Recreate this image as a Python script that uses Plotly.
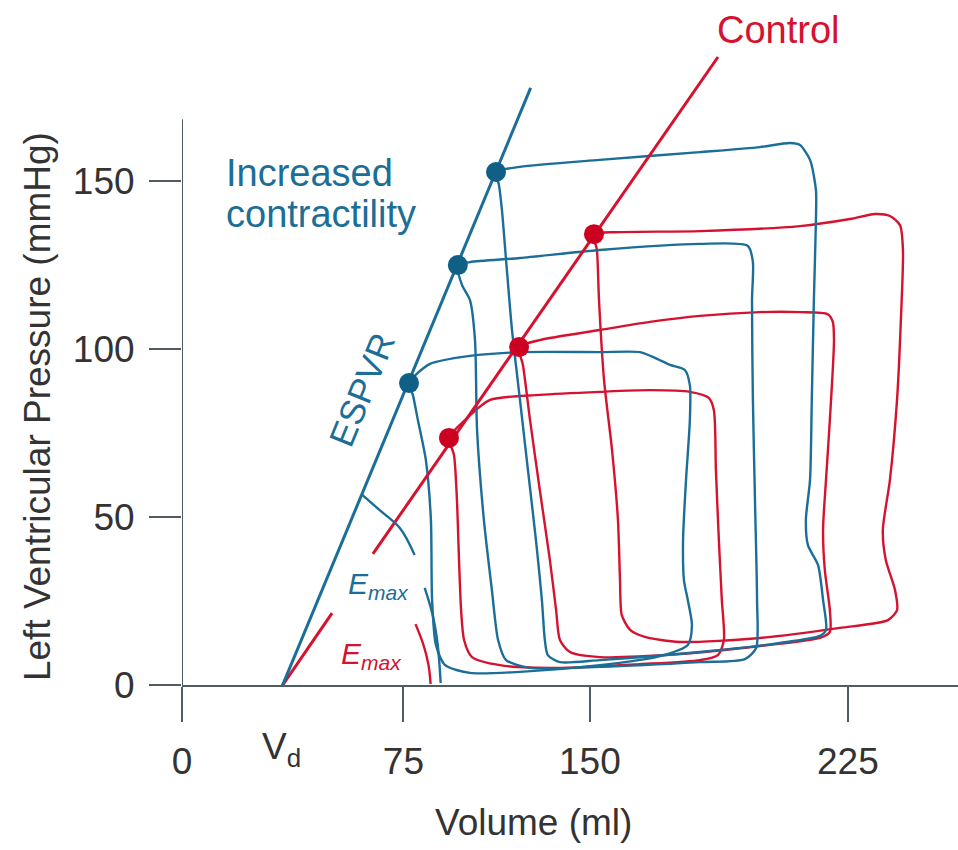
import plotly.graph_objects as go

BLUE = "#1b6e97"
BLUE_DOT = "#0f5f86"
RED = "#d5122f"
RED_DOT = "#cc0020"
AXIS = "#4f5c62"
TXT = "#333333"
FONT = "Liberation Sans"

x_tickvals = [0, 74.8, 137.8, 225.0]
x_ticktext = ["0", "75", "150", "225"]
y_tickvals = [0, 50, 100, 150]
y_ticktext = ["0", "50", "100", "150"]

# ESPVR lines (volume ml, pressure mmHg)
blue_espvr_v = [33.3, 117.8]
blue_espvr_p = [-1.5, 177.6]
red_espvr_low_v = [33.1, 50.7]
red_espvr_low_p = [-1.2, 21.4]
red_espvr_up_v = [64.5, 181.1]
red_espvr_up_p = [39.0, 186.8]

# End-systolic points
blue_es_v = [76.7, 93.2, 106.1]
blue_es_p = [89.8, 124.9, 152.6]
red_es_v = [90.2, 113.9, 139.2]
red_es_p = [73.5, 100.5, 134.1]

# Emax angle arcs
blue_arc1_v = [61.0, 66.8, 73.6, 78.6]
blue_arc1_p = [56.5, 52.0, 46.7, 38.7]
blue_arc2_v = [82.0, 84.7, 86.4, 87.4]
blue_arc2_p = [28.9, 20.8, 11.9, 0.6]
red_arc_v = [78.9, 81.6, 83.3, 84.0]
red_arc_p = [18.1, 11.9, 5.9, 0.3]

# Pressure-volume loops (increased contractility = blue, control = red)
b1_v = [106.1, 107.1, 108.1, 109.5, 111.5, 114.2, 116.9, 119.6, 121.6, 122.6, 123.6, 127.7,
        141.2, 175.0, 202.0, 215.5, 217.6, 216.6, 214.9, 211.5, 210.8, 212.2, 212.8, 213.5,
        214.2, 214.2, 212.2, 208.8, 205.4, 195.3, 175.0, 141.2, 114.2, 106.1]
b1_p = [152.6, 148.7, 141.3, 126.4, 105.6, 84.8, 63.9, 43.1, 25.3, 13.4, 8.9, 6.8,
        7.4, 9.8, 12.5, 14.6, 16.4, 25.3, 35.7, 41.6, 49.1, 61.0, 84.8, 114.5,
        138.3, 147.2, 156.2, 160.6, 161.2, 160.0, 158.5, 156.2, 154.1, 152.6]

b2_v = [93.2, 94.6, 97.3, 99.0, 99.7, 102.0, 104.7, 106.8, 109.5, 117.6, 141.2, 175.0,
        190.2, 194.0, 194.3, 193.6, 192.9, 192.6, 192.9, 191.2, 175.0, 141.2, 114.2, 97.3, 93.2]
b2_p = [124.9, 119.0, 114.5, 102.6, 75.8, 49.1, 28.3, 13.4, 7.4, 5.1, 5.4, 6.8,
        7.7, 11.0, 25.3, 55.0, 84.8, 114.5, 125.8, 130.6, 131.2, 129.4, 127.0, 125.8, 124.9]

b3_v = [76.7, 78.0, 79.7, 82.4, 84.1, 84.5, 85.8, 88.9, 97.3, 114.2, 141.2, 161.5, 170.9,
        172.3, 170.9, 169.6, 169.3, 170.3, 171.6, 171.6, 169.9, 164.9, 159.8, 154.7, 141.2,
        114.2, 97.3, 83.8, 76.7]
b3_p = [89.8, 86.3, 78.8, 66.9, 49.1, 25.3, 11.9, 5.9, 3.6, 3.9, 5.9, 8.6, 11.9,
        17.8, 25.3, 31.2, 43.1, 61.0, 78.8, 89.2, 93.7, 95.2, 97.3, 99.0, 99.0,
        99.0, 97.9, 95.5, 89.8]

r1_v = [139.2, 140.2, 140.9, 142.6, 145.3, 147.3, 148.0, 148.6, 151.4, 156.4, 168.2, 195.3,
        222.3, 238.5, 241.6, 240.9, 237.8, 236.8, 239.2, 241.6, 242.9, 243.6, 242.6, 239.2,
        234.1, 225.7, 208.8, 175.0, 148.0, 139.2]
r1_p = [134.1, 129.4, 114.5, 90.7, 69.9, 49.1, 31.2, 20.8, 16.4, 14.3, 12.8, 14.0,
        17.0, 19.3, 22.3, 28.3, 37.2, 46.1, 61.0, 84.8, 108.6, 129.4, 136.8, 139.5,
        140.1, 138.6, 136.5, 135.0, 134.7, 134.1]

r2_v = [113.9, 115.2, 117.6, 120.9, 124.3, 126.4, 127.7, 131.1, 141.2, 168.2, 195.3, 215.5,
        218.9, 218.9, 217.2, 216.6, 217.6, 218.9, 220.3, 219.9, 218.2, 208.8, 195.3, 175.0,
        158.1, 141.2, 120.9, 113.9]
r2_p = [100.5, 95.2, 78.8, 58.0, 37.2, 22.3, 13.4, 9.8, 8.3, 9.2, 11.6, 14.0,
        15.8, 22.3, 34.2, 46.1, 61.0, 78.8, 102.6, 108.0, 110.3, 110.9, 110.9, 109.8,
        108.0, 105.6, 102.6, 100.5]

r3_v = [90.2, 91.9, 92.9, 93.6, 94.3, 95.3, 98.0, 107.4, 127.7, 154.7, 175.0, 181.1,
        183.1, 182.4, 181.4, 180.4, 179.7, 178.0, 171.6, 158.1, 141.2, 120.9, 104.1, 95.6, 90.2]
r3_p = [73.5, 68.4, 55.0, 37.2, 22.3, 13.4, 8.3, 5.9, 5.1, 6.2, 7.4, 8.9,
        13.4, 25.3, 43.1, 63.9, 81.8, 85.4, 87.2, 87.7, 87.2, 86.3, 84.8, 78.8, 73.5]

fig = go.Figure()

def loop(v, p, color):
    fig.add_trace(go.Scatter(x=v, y=p, mode="lines", line=dict(color=color, width=2.4, shape="spline", smoothing=0.7),
                             hoverinfo="skip", showlegend=False))

for v, p in [(r1_v, r1_p), (r2_v, r2_p), (r3_v, r3_p)]:
    loop(v, p, RED)
for v, p in [(b1_v, b1_p), (b2_v, b2_p), (b3_v, b3_p)]:
    loop(v, p, BLUE)

def seg(v, p, color, w=3, spline=False):
    fig.add_trace(go.Scatter(x=v, y=p, mode="lines",
                             line=dict(color=color, width=w, shape="spline" if spline else "linear"),
                             hoverinfo="skip", showlegend=False))

seg(red_espvr_low_v, red_espvr_low_p, RED)
seg(red_espvr_up_v, red_espvr_up_p, RED)
seg(blue_espvr_v, blue_espvr_p, BLUE)
seg(blue_arc1_v, blue_arc1_p, BLUE, 2.4, True)
seg(blue_arc2_v, blue_arc2_p, BLUE, 2.4, True)
seg(red_arc_v, red_arc_p, RED, 2.4, True)

fig.add_trace(go.Scatter(x=red_es_v, y=red_es_p, mode="markers",
                         marker=dict(color=RED_DOT, size=20), hoverinfo="skip", showlegend=False))
fig.add_trace(go.Scatter(x=blue_es_v, y=blue_es_p, mode="markers",
                         marker=dict(color=BLUE_DOT, size=20), hoverinfo="skip", showlegend=False))

# y-axis line (stops short of the top)
fig.add_shape(type="line", x0=0, x1=0, y0=0, y1=168.3, xref="x", yref="y",
              line=dict(color=AXIS, width=2))

def ann(text, x, y, color=TXT, size=37, angle=0, xanchor="center"):
    fig.add_annotation(text=text, x=x, y=y, xref="paper", yref="paper", showarrow=False,
                       font=dict(family=FONT, size=size, color=color), textangle=angle,
                       xanchor=xanchor, yanchor="middle")

ann("Left Ventricular Pressure (mmHg)", -0.187, 0.407, angle=-90)
ann("Volume (ml)", 0.4536, -0.200)
ann("V<sub>d</sub>", 0.1276, -0.0935)
ann("Control", 0.7693, 0.956, color=RED, size=38)
ann("Increased", 0.0541, 0.7474, color=BLUE, size=38, xanchor="left")
ann("contractility", 0.0541, 0.6876, color=BLUE, size=38, xanchor="left")
ann("ESPVR", 0.232, 0.4307, color=BLUE, size=35, angle=-67.7)
ann("<i>E<sub>max</sub></i>", (378 - 182) / 776, (685 - 585) / 685, color=BLUE, size=30)
ann("<i>E<sub>max</sub></i>", (371 - 182) / 776, (685 - 655) / 685, color=RED, size=30)

fig.update_layout(
    width=958, height=850,
    margin=dict(l=182, r=0, t=0, b=165),
    plot_bgcolor="white", paper_bgcolor="white",
    font=dict(family=FONT, size=37, color=TXT),
    xaxis=dict(range=[0, 262.2], tickvals=x_tickvals, ticktext=x_ticktext,
               showgrid=False, zeroline=False, showline=True, linecolor=AXIS, linewidth=2,
               ticks="outside", ticklen=35, tickwidth=2, tickcolor=AXIS, ticklabelstandoff=8,
               tickfont=dict(family=FONT, size=37, color=TXT)),
    yaxis=dict(range=[0, 203.75], tickvals=y_tickvals, ticktext=y_ticktext,
               showgrid=False, zeroline=False, showline=False,
               ticks="outside", ticklen=32, tickwidth=2, tickcolor=AXIS, ticklabelstandoff=7,
               tickfont=dict(family=FONT, size=37, color=TXT)),
)

fig.write_html("out.html")
